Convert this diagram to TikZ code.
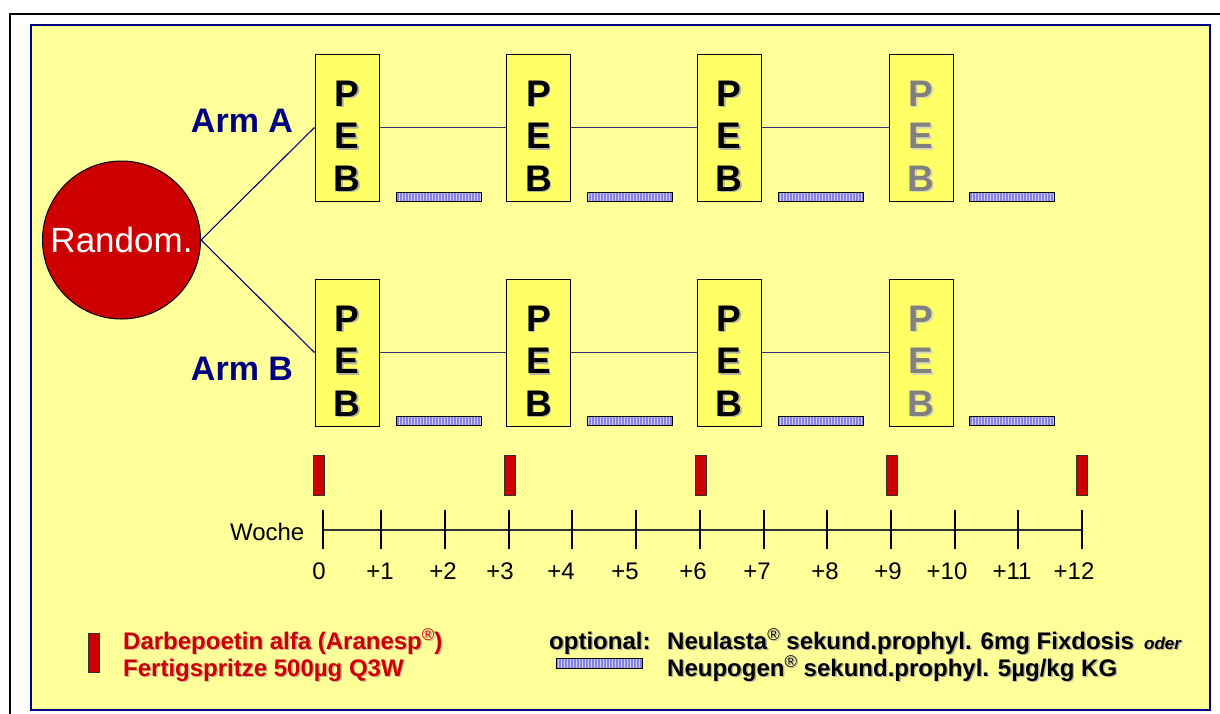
\documentclass[tikz,border=0pt]{standalone}
\usepackage{fontspec}
\setmainfont{Liberation Sans}
\usetikzlibrary{patterns}
\definecolor{bgyellow}{RGB}{255,255,153}
\definecolor{pebyellow}{RGB}{255,255,102}
\definecolor{darkred}{RGB}{204,0,0}
\definecolor{armblue}{RGB}{0,0,128}
\definecolor{barblue}{RGB}{130,130,228}
\definecolor{stripe}{RGB}{205,205,255}
\definecolor{linkblue}{RGB}{50,50,110}
\definecolor{shadowgray}{RGB}{180,180,160}
\definecolor{lightshadow}{RGB}{215,215,180}
\definecolor{lettergray}{RGB}{128,128,128}
\definecolor{redshadow}{RGB}{205,180,150}
\newcommand{\shtext}[2]{\makebox[0pt][l]{\hspace{1.4pt}\raisebox{-1.4pt}{\textcolor{#1}{#2}}}#2}
\newcommand{\pebtext}[1]{\begin{tabular}{@{}c@{}}\shtext{#1}{P}\\\shtext{#1}{E}\\\shtext{#1}{B}\end{tabular}}
\newcommand{\reg}{\raisebox{0.36em}{\fontsize{17}{17}\selectfont\mdseries ®}}
\tikzset{
  pebbox/.style={rectangle, draw=black, line width=1, fill=pebyellow, minimum width=64, minimum height=147, inner sep=0},
  peblabel/.style={font=\fontsize{37}{42.5}\selectfont\bfseries, inner sep=0, yshift=-12.7pt},
  nbar/.style={rectangle, draw=black, line width=0.9, preaction={fill=barblue}, pattern=vertical lines, pattern color=stripe, minimum width=85, minimum height=9, inner sep=0},
  dbar/.style={rectangle, draw=black!80, line width=0.9, fill=darkred, minimum width=11, minimum height=40, inner sep=0},
  armlabel/.style={font=\fontsize{34}{40}\selectfont\bfseries, text=armblue, inner sep=0},
  link/.style={draw=linkblue, line width=1.3},
  axislabel/.style={font=\fontsize{24}{28}\selectfont, inner sep=0},
  legendtext/.style={font=\fontsize{24}{28}\selectfont\bfseries, inner sep=0, anchor=base west},
}
\begin{document}
\begin{tikzpicture}[x=1pt,y=-1pt]
\useasboundingbox (0,0) rectangle (1220,713);
\clip (0,0) rectangle (1220,713);
\fill[white] (0,0) rectangle (1220,713);
% outer frame
\draw[line width=2.2] (10,14) rectangle (1250,750);
% yellow panel
\draw[draw=armblue, line width=1.5, fill=bgyellow] (31,25) rectangle (1210,710);

% randomisation circle
\node[circle, draw=black, line width=1, fill=darkred, minimum size=158, inner sep=0,
      text=white, font=\fontsize{35}{40}\selectfont] (rnd) at (121.5,240) {Random.};

% arm labels
\node[armlabel] (armA) at (242,121) {Arm A};
\node[armlabel] (armB) at (242,369) {Arm B};

% PEB boxes
\foreach \i/\x in {1/347,2/538.5,3/729}{
  \node[pebbox, label={[peblabel]center:\pebtext{shadowgray}}] (a\i) at (\x,127.5) {};
  \node[pebbox, label={[peblabel]center:\pebtext{shadowgray}}] (b\i) at (\x,352.5) {};
}
\node[pebbox, label={[peblabel, text=lettergray]center:\pebtext{lightshadow}}] (a4) at (921,127.5) {};
\node[pebbox, label={[peblabel, text=lettergray]center:\pebtext{lightshadow}}] (b4) at (921,352.5) {};

% connectors
\draw[draw=armblue, line width=1.1] (rnd.east) -- (a1.west);
\draw[draw=armblue, line width=1.1] (rnd.east) -- (b1.west);
\foreach \p/\q in {1/2,2/3,3/4}{
  \draw[link] (a\p.east) -- (a\q.west);
  \draw[link] (b\p.east) -- (b\q.west);
}

% Neupogen bars
\foreach \i/\x in {1/438.5,2/629.5,3/820.5,4/1011.5}{
  \node[nbar] (na\i) at (\x,196.5) {};
  \node[nbar] (nb\i) at (\x,421) {};
}

% Darbepoetin markers
\foreach \i/\x in {0/318.5,1/509.5,2/700.5,3/892,4/1081.5}{
  \node[dbar] (d\i) at (\x,475) {};
}

% time axis
\coordinate (axs) at (323,530);
\coordinate (axe) at (1083,530);
\draw[line width=1.3, draw=black!80] (axs) -- (axe);
\foreach \x in {323,381,445,509,572,636,700,764,827,891,955,1018,1082}{
  \draw[line width=1.3] (\x,510) -- (\x,549);
}
\node[axislabel, anchor=east] (woche) at (304.5,532) {Woche};
\foreach \n/\x/\t in {0/319/0,1/380/+1,2/443/+2,3/500/+3,4/561/+4,5/625/+5,6/693/+6,7/757/+7,8/825/+8,9/888/+9,10/947/+10,11/1012/+11,12/1074/+12}{
  \node[axislabel] (w\n) at (\x,571) {\t};
}

% legend
\node[dbar, minimum height=39] (ldbar) at (93.5,652.5) {};
\node[legendtext, text=darkred] (leg1) at (123,649) {\shtext{redshadow}{Darbepoetin alfa (Aranesp\reg)}};
\node[legendtext, text=darkred] (leg2) at (123,676) {\shtext{redshadow}{Fertigspritze 500µg Q3W}};
\node[nbar, minimum width=86, minimum height=10] (lnbar) at (599,663) {};
\node[legendtext] (opt) at (549,649) {\shtext{shadowgray}{optional:}};
\node[legendtext] (leg3) at (667,649) {\shtext{shadowgray}{Neulasta\reg{} sekund.prophyl. 6mg Fixdosis}};
\node[legendtext, font=\fontsize{17}{20}\selectfont\bfseries\itshape] (oder) at (1144,649) {\shtext{shadowgray}{oder}};
\node[legendtext] (leg4) at (667,676) {\shtext{shadowgray}{Neupogen\reg{} sekund.prophyl. 5µg/kg KG}};
\end{tikzpicture}
\end{document}
